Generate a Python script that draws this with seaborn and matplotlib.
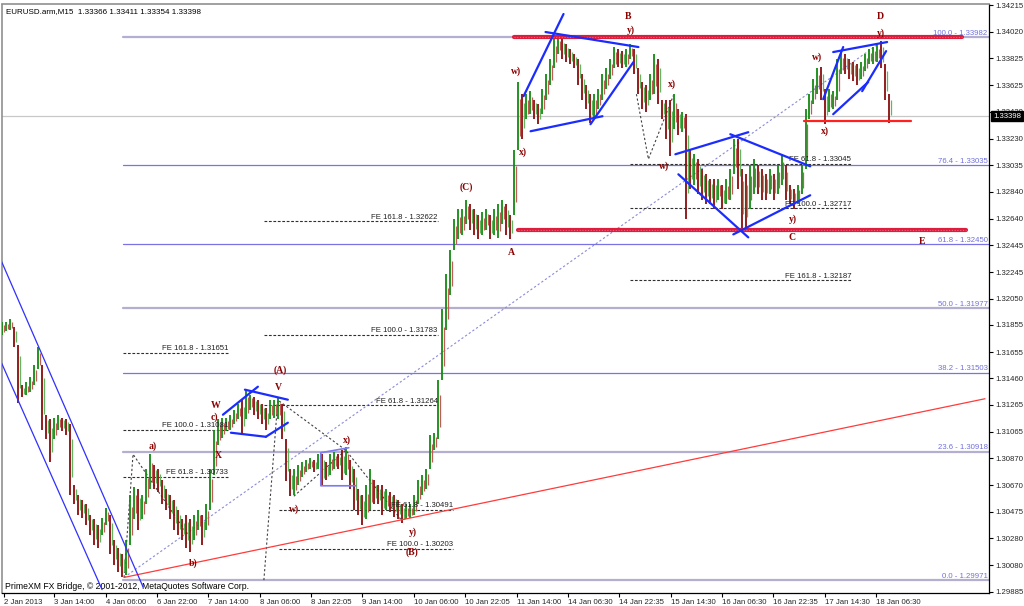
import numpy as np
import pandas as pd
import seaborn as sns
import matplotlib.pyplot as plt
import matplotlib.transforms as mtransforms

# price range of each bar (about 75 minutes per bar)
hi = [1.3188, 1.3188, 1.3190, 1.3184, 1.3171, 1.3141, 1.3143, 1.3147, 1.3156, 1.3169,
      1.3156, 1.3119, 1.3116, 1.3117, 1.3119, 1.3117, 1.3116, 1.3112, 1.3067, 1.3060,
      1.3056, 1.3053, 1.3045, 1.3042, 1.3038, 1.3043, 1.3050, 1.3045, 1.3027, 1.3021,
      1.3016, 1.3027, 1.3060, 1.3066, 1.3064, 1.3060, 1.3079, 1.3090, 1.3082, 1.3079,
      1.3071, 1.3064, 1.3060, 1.3056, 1.3049, 1.3042, 1.3045, 1.3042, 1.3045, 1.3049,
      1.3045, 1.3053, 1.3079, 1.3108, 1.3116, 1.3117, 1.3117, 1.3119, 1.3123, 1.3127,
      1.3130, 1.3138, 1.3134, 1.3132, 1.3130, 1.3127, 1.3124, 1.3130, 1.3130, 1.3132,
      1.3127, 1.3101, 1.3079, 1.3079, 1.3082, 1.3084, 1.3086, 1.3087, 1.3086, 1.3090,
      1.3090, 1.3084, 1.3090, 1.3092, 1.3090, 1.3093, 1.3095, 1.3086, 1.3079, 1.3064,
      1.3060, 1.3067, 1.3079, 1.3071, 1.3067, 1.3067, 1.3064, 1.3062, 1.3060, 1.3056,
      1.3053, 1.3053, 1.3053, 1.3060, 1.3071, 1.3075, 1.3079, 1.3104, 1.3106, 1.3145,
      1.3197, 1.3223, 1.3241, 1.3264, 1.3271, 1.3271, 1.3278, 1.3275, 1.3271, 1.3267,
      1.3269, 1.3271, 1.3267, 1.3271, 1.3275, 1.3278, 1.3275, 1.3267, 1.3315, 1.3365,
      1.3356, 1.3356, 1.3358, 1.3352, 1.3349, 1.3360, 1.3371, 1.3382, 1.3397, 1.3398,
      1.3397, 1.3393, 1.3389, 1.3386, 1.3382, 1.3371, 1.3363, 1.3356, 1.3356, 1.3360,
      1.3371, 1.3375, 1.3382, 1.3391, 1.3389, 1.3388, 1.3389, 1.3393, 1.3389, 1.3375,
      1.3365, 1.3363, 1.3371, 1.3386, 1.3382, 1.3352, 1.3352, 1.3352, 1.3356, 1.3345,
      1.3343, 1.3341, 1.3315, 1.3312, 1.3308, 1.3301, 1.3297, 1.3293, 1.3293, 1.3293,
      1.3289, 1.3293, 1.3301, 1.3323, 1.3323, 1.3301, 1.3297, 1.3304, 1.3308, 1.3304,
      1.3301, 1.3297, 1.3301, 1.3297, 1.3304, 1.3312, 1.3304, 1.3289, 1.3286, 1.3289,
      1.3304, 1.3345, 1.3356, 1.3367, 1.3375, 1.3376, 1.3360, 1.3360, 1.3358, 1.3382,
      1.3387, 1.3386, 1.3382, 1.3380, 1.3378, 1.3380, 1.3386, 1.3389, 1.3391, 1.3392,
      1.3395, 1.3378, 1.3356]
lo = [1.3178, 1.3181, 1.3182, 1.3169, 1.3128, 1.3132, 1.3134, 1.3136, 1.3141, 1.3153,
      1.3108, 1.3101, 1.3084, 1.3101, 1.3108, 1.3107, 1.3104, 1.3060, 1.3053, 1.3045,
      1.3043, 1.3038, 1.3030, 1.3023, 1.3021, 1.3030, 1.3038, 1.3016, 1.3008, 1.3003,
      1.2999, 1.3001, 1.3023, 1.3042, 1.3034, 1.3042, 1.3053, 1.3064, 1.3064, 1.3062,
      1.3053, 1.3049, 1.3042, 1.3034, 1.3030, 1.3027, 1.3021, 1.3018, 1.3027, 1.3034,
      1.3023, 1.3034, 1.3049, 1.3075, 1.3097, 1.3102, 1.3107, 1.3108, 1.3112, 1.3116,
      1.3104, 1.3116, 1.3123, 1.3119, 1.3116, 1.3112, 1.3108, 1.3116, 1.3117, 1.3116,
      1.3101, 1.3070, 1.3059, 1.3060, 1.3067, 1.3073, 1.3077, 1.3079, 1.3077, 1.3079,
      1.3067, 1.3071, 1.3075, 1.3079, 1.3079, 1.3071, 1.3075, 1.3064, 1.3049, 1.3045,
      1.3038, 1.3042, 1.3049, 1.3053, 1.3053, 1.3045, 1.3049, 1.3047, 1.3044, 1.3042,
      1.3039, 1.3042, 1.3043, 1.3045, 1.3053, 1.3060, 1.3064, 1.3079, 1.3093, 1.3101,
      1.3145, 1.3182, 1.3208, 1.3241, 1.3249, 1.3252, 1.3260, 1.3256, 1.3252, 1.3249,
      1.3252, 1.3256, 1.3249, 1.3252, 1.3250, 1.3260, 1.3252, 1.3249, 1.3267, 1.3315,
      1.3323, 1.3338, 1.3341, 1.3338, 1.3334, 1.3341, 1.3352, 1.3363, 1.3375, 1.3386,
      1.3382, 1.3380, 1.3378, 1.3375, 1.3363, 1.3352, 1.3345, 1.3335, 1.3338, 1.3345,
      1.3352, 1.3360, 1.3367, 1.3375, 1.3376, 1.3375, 1.3376, 1.3382, 1.3371, 1.3356,
      1.3345, 1.3343, 1.3352, 1.3356, 1.3349, 1.3338, 1.3323, 1.3310, 1.3330, 1.3326,
      1.3328, 1.3264, 1.3286, 1.3289, 1.3282, 1.3278, 1.3275, 1.3275, 1.3271, 1.3278,
      1.3271, 1.3275, 1.3278, 1.3297, 1.3286, 1.3256, 1.3255, 1.3271, 1.3282, 1.3282,
      1.3278, 1.3278, 1.3282, 1.3278, 1.3282, 1.3289, 1.3278, 1.3275, 1.3271, 1.3275,
      1.3282, 1.3301, 1.3338, 1.3349, 1.3356, 1.3352, 1.3334, 1.3343, 1.3345, 1.3352,
      1.3371, 1.3371, 1.3367, 1.3366, 1.3363, 1.3367, 1.3373, 1.3378, 1.3378, 1.3380,
      1.3375, 1.3352, 1.3335]

last_price = 1.33398
header = "EURUSD.arm,M15  1.33366 1.33411 1.33354 1.33398"
footer = "PrimeXM FX Bridge, \u00a9 2001-2012, MetaQuotes Software Corp."

fib_levels = ["100.0", "76.4", "61.8", "50.0", "38.2", "23.6", "0.0"]
fib_prices = [1.33982, 1.33035, 1.32450, 1.31977, 1.31503, 1.30918, 1.29971]

fe_names = ["FE 161.8", "FE 100.0", "FE 61.8",
            "FE 161.8", "FE 100.0", "FE 61.8",
            "FE 61.8", "FE 100.0",
            "FE 61.8", "FE 100.0", "FE 161.8"]
fe_prices = [1.31651, 1.31081, 1.30733,
             1.32622, 1.31783, 1.31264,
             1.30491, 1.30203,
             1.33045, 1.32717, 1.32187]

y_ticks = [1.34215, 1.34020, 1.33825, 1.33625, 1.33430, 1.33230, 1.33035, 1.32840,
           1.32640, 1.32445, 1.32245, 1.32050, 1.31855, 1.31655, 1.31460, 1.31265,
           1.31065, 1.30870, 1.30670, 1.30475, 1.30280, 1.30080, 1.29885]
x_labels = ["2 Jan 2013", "3 Jan 14:00", "4 Jan 06:00", "6 Jan 22:00", "7 Jan 14:00",
            "8 Jan 06:00", "8 Jan 22:05", "9 Jan 14:00", "10 Jan 06:00", "10 Jan 22:05",
            "11 Jan 14:00", "14 Jan 06:30", "14 Jan 22:35", "15 Jan 14:30", "16 Jan 06:30",
            "16 Jan 22:35", "17 Jan 14:30", "18 Jan 06:30"]

sns.set_theme(style="white")
plt.rcParams['font.family'] = ['Liberation Sans', 'DejaVu Sans']

df = pd.DataFrame({'bar': np.arange(len(hi)), 'high': hi, 'low': lo})
df['mid'] = (df['high'] + df['low']) / 2
df['up'] = df['mid'].diff().fillna(0) >= 0
df['span'] = df['high'] - df['low']

fig = plt.figure(figsize=(10.24, 6.06), dpi=100)
ax = fig.add_axes([2 / 1024, 13 / 606, 987 / 1024, 589 / 606])
ax.set_facecolor('white')
xmax = 246.75
ax.set_xlim(-0.3, xmax)
ax.set_ylim(1.29875, 1.34226)

# fibo retracement levels
for name, p in zip(fib_levels, fib_prices):
    thick = name in ("100.0", "50.0", "23.6", "0.0")
    ax.plot([30, xmax], [p, p], color='#b4aed0' if thick else '#7a72e6',
            lw=1.6 if thick else 0.9, zorder=1)
    ax.text(246.4, p + 0.00003, f"{name} - {p:.5f}", color='#7070dd', fontsize=5.6,
            ha='right', va='bottom', zorder=5)

# bid line
ax.axhline(last_price, color='#c8c8c8', lw=0.9, zorder=1)

# fibo expansions (dashed)
fe_spans = [(30, 56.25)] * 3 + [(65.25, 108.75)] * 3 + [(69, 112.5)] * 2 + [(157, 212.25)] * 3
for name, p, (x0, x1) in zip(fe_names, fe_prices, fe_spans):
    ax.plot([x0, x1], [p, p], color='#303030', lw=0.8, ls=(0, (2.5, 1.5)), zorder=2)
    ax.text(x1, p + 0.00003, f"{name} - {p:.5f}", color='#202020', fontsize=5.6,
            ha='right', va='bottom', zorder=5)

# candles: main stroke in the bar's direction, a thinner inner stroke in the other colour
green, red = '#138a13', '#8a0c0c'
lgreen, lred = '#5fb85f', '#c25a5a'
up, dn = df[df.up], df[~df.up]
ax.vlines(up['bar'] - 0.18, up['low'], up['high'], color=green, lw=1.3, zorder=3)
ax.vlines(dn['bar'] - 0.18, dn['low'], dn['high'], color=red, lw=1.3, zorder=3)
ax.vlines(up['bar'] + 0.3, up['low'] + 0.2 * up['span'], up['high'] - 0.25 * up['span'],
          color=lred, lw=0.9, zorder=3)
ax.vlines(dn['bar'] + 0.3, dn['low'] + 0.25 * dn['span'], dn['high'] - 0.2 * dn['span'],
          color=lgreen, lw=0.9, zorder=3)

# red support/resistance
ax.plot([127.75, 240], [1.33983, 1.33983], color='#dc1e3c', lw=3.0, zorder=4)
ax.plot([128.75, 241], [1.32558, 1.32558], color='#dc1e3c', lw=3.0, zorder=4)
ax.plot([127.75, 240], [1.33983, 1.33983], color='#f06080', lw=0.8, ls=(0, (1, 1.5)), zorder=4)
ax.plot([128.75, 241], [1.32558, 1.32558], color='#f06080', lw=0.8, ls=(0, (1, 1.5)), zorder=4)
ax.plot([30.25, 245.75], [1.29990, 1.31310], color='#ff3b3b', lw=0.9, zorder=4)
ax.plot([200.5, 227.25], [1.33360, 1.33360], color='#ff2020', lw=1.6, zorder=4)

# blue channel on the left
ax.plot([-0.5, 35], [1.3233, 1.2992], color='#3030ff', lw=0.9, zorder=4)
ax.plot([-0.5, 24.75], [1.3158, 1.2990], color='#3030ff', lw=0.9, zorder=4)

# dotted retracement trend line
ax.plot([30.25, 220], [1.29990, 1.33950], color='#8a8ad8', lw=0.8, ls=(0, (2, 2)), zorder=2)

# wave zigzags (dashed black)
zig = [([30.25, 32.5, 47], [1.2999, 1.3090, 1.3027]),
       ([65.25, 68.75, 85.75, 99.5], [1.2997, 1.3130, 1.3093, 1.3042]),
       ([72.75, 85.75], [1.3059, 1.3093]),
       ([158.5, 161.5, 167.75], [1.3356, 1.3308, 1.3355])]
for xs, ys in zig:
    ax.plot(xs, ys, color='#404040', lw=0.8, ls=(0, (2, 2)), zorder=2)

# blue pattern lines
blue_segs = [((55, 1.31192), (63.75, 1.31399)), ((60.5, 1.31377), (71.25, 1.31303)),
             ((57, 1.31059), (65.75, 1.31029)), ((65.75, 1.31029), (71.25, 1.31133)),
             ((130.25, 1.33545), (140.25, 1.34152)), ((135.75, 1.34019), (159, 1.33908)),
             ((132, 1.33286), (150, 1.33397)), ((147, 1.33338), (157.75, 1.33797)),
             ((168.25, 1.33116), (186.5, 1.33279)), ((182, 1.33264), (202, 1.33027)),
             ((169, 1.32968), (186.5, 1.32502)), ((182.75, 1.32524), (202, 1.32813)),
             ((205.25, 1.33523), (210.25, 1.33908)), ((207.75, 1.33871), (221.25, 1.33945)),
             ((207.75, 1.33412), (216.5, 1.33649)), ((215, 1.33582), (221, 1.33878))]
for (x0, y0), (x1, y1) in blue_segs:
    ax.plot([x0, x1], [y0, y1], color='#1a2cff', lw=1.6, zorder=5)
ax.plot([86.5, 79.5, 79.5, 88.25], [1.30948, 1.30911, 1.30667, 1.30667],
        color='#7b7bee', lw=1.2, zorder=5)

# wave labels
wave_labels = [("B", 156.5, 1.34137), ("y)", 157, 1.34034), ("D", 219.5, 1.34137),
               ("y)", 219.75, 1.34012), ("w)", 128.25, 1.33730), ("x)", 130, 1.33131),
               ("x)", 167.5, 1.33634), ("w)", 165.5, 1.33027), ("w)", 203.75, 1.33834),
               ("x)", 205.75, 1.33286), ("(C)", 116, 1.32872), ("A", 127.25, 1.32391),
               ("y)", 197.75, 1.32635), ("C", 197.5, 1.32502), ("E", 230, 1.32472),
               ("(A)", 69.25, 1.31518), ("V", 69, 1.31392), ("W", 53.25, 1.31259),
               ("c)", 52.75, 1.31177), ("X", 53.75, 1.30889), ("a)", 37.5, 1.30963),
               ("b)", 47.5, 1.30097), ("w)", 72.75, 1.30497), ("x)", 86, 1.31007),
               ("y)", 102.5, 1.30326), ("(B)", 102.25, 1.30178)]
for t, x, y in wave_labels:
    ax.text(x, y, t, color='#8b0000', fontsize=7, fontweight='bold',
            family=['Liberation Serif', 'DejaVu Serif'], ha='center', va='center', zorder=6)

ax.text(0.004, 0.993, header, transform=ax.transAxes, fontsize=5.8, color='black',
        ha='left', va='top')
ax.text(0.003, 0.004, footer, transform=ax.transAxes, fontsize=6.2, color='black',
        ha='left', va='bottom')

# axes styling like the terminal
ax.yaxis.tick_right()
ax.set_yticks(y_ticks)
ax.set_yticklabels([f"{v:.5f}" for v in y_ticks])
tick_pos = [0.2] + [12.75 + 12.86 * i for i in range(len(x_labels) - 1)]
ax.set_xticks(tick_pos)
ax.set_xticklabels(x_labels, ha='left')
ax.tick_params(axis='both', direction='out', length=3, width=0.8, color='black',
               labelsize=5.6, pad=1.5, bottom=True, right=True, left=False)
for s in ('left', 'top'):
    ax.spines[s].set_color('#909090')
    ax.spines[s].set_linestyle((0, (2, 1)))
    ax.spines[s].set_linewidth(1.2)
for s in ('right', 'bottom'):
    ax.spines[s].set_color('black')
    ax.spines[s].set_linewidth(0.9)
ax.grid(False)

trans = mtransforms.blended_transform_factory(ax.transAxes, ax.transData)
ax.text(1.004, last_price, f"{last_price:.5f}", transform=trans, fontsize=5.6, color='white',
        ha='left', va='center', zorder=7,
        bbox=dict(boxstyle='square,pad=0.2', fc='black', ec='black'))

fig.savefig('out.png', dpi=100)
